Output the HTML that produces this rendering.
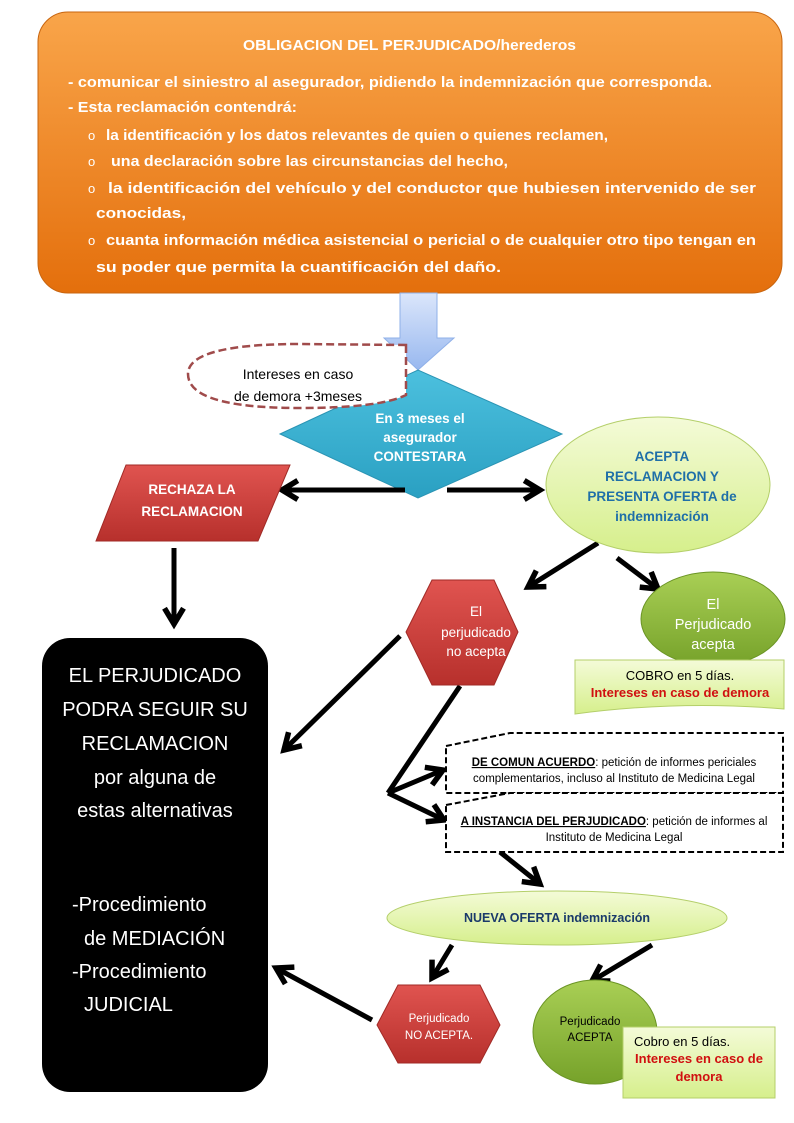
<!DOCTYPE html>
<html><head><meta charset="utf-8"><style>
html,body{margin:0;padding:0;background:#fff}
svg{display:block}
text{font-family:"Liberation Sans",sans-serif}
</style></head><body>
<svg width="794" height="1123" viewBox="0 0 794 1123" xmlns="http://www.w3.org/2000/svg">
<defs>
<linearGradient id="og" x1="0" y1="0" x2="0" y2="1"><stop offset="0" stop-color="#f9a54a"/><stop offset="1" stop-color="#e46f0c"/></linearGradient>
<linearGradient id="bg" x1="0" y1="0" x2="0" y2="1"><stop offset="0" stop-color="#dbe6fb"/><stop offset="1" stop-color="#98b8ef"/></linearGradient>
<linearGradient id="rg" x1="0" y1="0" x2="0" y2="1"><stop offset="0" stop-color="#e05450"/><stop offset="1" stop-color="#b7302c"/></linearGradient>
<linearGradient id="lg" x1="0" y1="0" x2="0" y2="1"><stop offset="0" stop-color="#f4fbd8"/><stop offset="1" stop-color="#d6ef8c"/></linearGradient>
<linearGradient id="gg" x1="0" y1="0" x2="0" y2="1"><stop offset="0" stop-color="#a9cf55"/><stop offset="1" stop-color="#76a22a"/></linearGradient>
<linearGradient id="dg" x1="0" y1="0" x2="0" y2="1"><stop offset="0" stop-color="#4cc0de"/><stop offset="1" stop-color="#2aa0c2"/></linearGradient>
<marker id="ah" viewBox="0 0 10 10" refX="7.5" refY="5" markerWidth="5" markerHeight="5" orient="auto" markerUnits="strokeWidth">
<polyline points="1.2,1.2 7.5,5 1.2,8.8" fill="none" stroke="#000" stroke-width="2.2"/></marker>
</defs>

<rect x="38" y="12" width="744" height="281" rx="30" fill="url(#og)" stroke="#c8650f"/>
<g fill="#fff" font-weight="bold" font-size="14.5">
<text x="243" y="50" textLength="333" lengthAdjust="spacingAndGlyphs">OBLIGACION DEL PERJUDICADO/herederos</text>
<text x="68" y="87" textLength="644" lengthAdjust="spacingAndGlyphs">- comunicar el siniestro al asegurador, pidiendo la indemnización que corresponda.</text>
<text x="68" y="112" textLength="229" lengthAdjust="spacingAndGlyphs">- Esta reclamación contendrá:</text>
<g font-weight="normal" font-size="13"><text x="88" y="140">o</text><text x="88" y="166">o</text><text x="88" y="193">o</text><text x="88" y="245">o</text></g>
<text x="106" y="140" textLength="502" lengthAdjust="spacingAndGlyphs">la identificación y los datos relevantes de quien o quienes reclamen,</text>
<text x="111" y="166" textLength="397" lengthAdjust="spacingAndGlyphs">una declaración sobre las circunstancias del hecho,</text>
<text x="108" y="193" textLength="648" lengthAdjust="spacingAndGlyphs">la identificación del vehículo y del conductor que hubiesen intervenido de ser</text>
<text x="96" y="218" textLength="90" lengthAdjust="spacingAndGlyphs">conocidas,</text>
<text x="106" y="245" textLength="650" lengthAdjust="spacingAndGlyphs">cuanta información médica asistencial o pericial o de cualquier otro tipo tengan en</text>
<text x="96" y="272" textLength="405" lengthAdjust="spacingAndGlyphs">su poder que permita la cuantificación del daño.</text>
</g>

<polygon points="400,293 437,293 437,338 454,338 418,370 384,338 400,338" fill="url(#bg)" stroke="#8fb0e8"/>

<polygon points="280,434 418,370 562,434 418,498" fill="url(#dg)" stroke="#2a94b4"/>
<g fill="#fff" font-weight="bold" font-size="13.5" text-anchor="middle">
<text x="420" y="423">En 3 meses el</text><text x="420" y="442">asegurador</text><text x="420" y="461">CONTESTARA</text></g>

<path d="M406,345 L406,395 Q380,408 300,408 Q188,408 188,374 Q188,344 300,344 Z" fill="#fff" stroke="#a04b4b" stroke-width="2.5" stroke-dasharray="8,4"/>
<g font-size="14" text-anchor="middle"><text x="298" y="379">Intereses en caso</text><text x="298" y="401">de demora +3meses</text></g>

<g stroke="#000" stroke-width="5" fill="none" marker-end="url(#ah)">
<line x1="405" y1="490" x2="282" y2="490"/>
<line x1="447" y1="490" x2="540" y2="490"/>
<line x1="174" y1="548" x2="174" y2="624"/>
<line x1="598" y1="543" x2="528" y2="587"/>
<line x1="617" y1="558" x2="658" y2="589"/>
<line x1="400" y1="636" x2="284" y2="750"/>
<line x1="388" y1="793" x2="443" y2="770"/>
<line x1="388" y1="793" x2="444" y2="820"/>
<line x1="500" y1="852" x2="540" y2="884"/>
<line x1="452" y1="945" x2="432" y2="978"/>
<line x1="652" y1="945" x2="592" y2="981"/>
<line x1="372" y1="1020" x2="276" y2="968"/>
</g>
<line x1="460" y1="686" x2="388" y2="793" stroke="#000" stroke-width="5"/>

<polygon points="126,465 290,465 258,541 96,541" fill="url(#rg)" stroke="#a02a26"/>
<g fill="#fff" font-weight="bold" font-size="13.5" text-anchor="middle"><text x="192" y="494">RECHAZA LA</text><text x="192" y="516">RECLAMACION</text></g>

<ellipse cx="658" cy="485" rx="112" ry="68" fill="url(#lg)" stroke="#b4cf6a"/>
<g fill="#1f6fa8" font-weight="bold" font-size="13.5" text-anchor="middle">
<text x="662" y="461">ACEPTA</text><text x="662" y="481">RECLAMACION Y</text><text x="662" y="501">PRESENTA OFERTA de</text><text x="662" y="521">indemnización</text></g>

<rect x="42" y="638" width="226" height="454" rx="28" fill="#000"/>
<g fill="#fff" font-size="20" text-anchor="middle">
<text x="155" y="682">EL PERJUDICADO</text><text x="155" y="716">PODRA SEGUIR SU</text><text x="155" y="750">RECLAMACION</text><text x="155" y="784">por alguna de</text><text x="155" y="817">estas alternativas</text></g>
<g fill="#fff" font-size="20">
<text x="72" y="911">-Procedimiento</text><text x="84" y="945">de MEDIACIÓN</text><text x="72" y="978">-Procedimiento</text><text x="84" y="1011">JUDICIAL</text></g>

<polygon points="406,632 432,580 494,580 518,632 494,685 432,685" fill="url(#rg)" stroke="#a02a26"/>
<g fill="#fff" font-size="13.5" text-anchor="middle"><text x="476" y="616">El</text><text x="476" y="637">perjudicado</text><text x="476" y="656">no acepta</text></g>

<ellipse cx="713" cy="619" rx="72" ry="47" fill="url(#gg)" stroke="#6a9424"/>
<g fill="#fff" font-size="14.5" text-anchor="middle"><text x="713" y="609">El</text><text x="713" y="629">Perjudicado</text><text x="713" y="649">acepta</text></g>

<path d="M575,660 L784,660 L784,709 Q680,700 575,714 Z" fill="url(#lg)" stroke="#b4cf6a"/>
<text x="680" y="680" font-size="13" text-anchor="middle">COBRO en 5 días.</text>
<text x="680" y="697" font-size="13" font-weight="bold" fill="#d01010" text-anchor="middle">Intereses en caso de demora</text>

<g fill="#fff" stroke="#000" stroke-width="2" stroke-dasharray="6,3">
<path d="M446,746 L510,733 L783,733 L783,793 L446,793 Z"/>
<path d="M446,805 L510,793 L783,793 L783,852 L446,852 Z"/>
</g>
<g font-size="11.5" text-anchor="middle">
<text x="614" y="766"><tspan font-weight="bold" text-decoration="underline">DE COMUN ACUERDO</tspan>: petición de informes periciales</text>
<text x="614" y="782">complementarios, incluso al Instituto de Medicina Legal</text>
<text x="614" y="825"><tspan font-weight="bold" text-decoration="underline">A INSTANCIA DEL PERJUDICADO</tspan>: petición de informes al</text>
<text x="614" y="841">Instituto de Medicina Legal</text></g>

<ellipse cx="557" cy="918" rx="170" ry="27" fill="url(#lg)" stroke="#b4cf6a"/>
<text x="557" y="922" font-size="12.5" font-weight="bold" fill="#1a3a6a" text-anchor="middle">NUEVA OFERTA indemnización</text>

<polygon points="377,1025 398,985 480,985 500,1025 480,1063 398,1063" fill="url(#rg)" stroke="#a02a26"/>
<g fill="#fff" font-size="11.5" text-anchor="middle"><text x="439" y="1022">Perjudicado</text><text x="439" y="1039">NO ACEPTA.</text></g>

<ellipse cx="595" cy="1032" rx="62" ry="52" fill="url(#gg)" stroke="#6a9424"/>
<g font-size="11.5" text-anchor="middle"><text x="590" y="1025">Perjudicado</text><text x="590" y="1041">ACEPTA</text></g>

<path d="M623,1027 L775,1027 L775,1098 L623,1098 Z" fill="url(#lg)" stroke="#b4cf6a"/>
<text x="634" y="1046" font-size="13">Cobro en 5 días.</text>
<g font-size="13" font-weight="bold" fill="#d01010" text-anchor="middle"><text x="699" y="1063">Intereses en caso de</text><text x="699" y="1081">demora</text></g>
</svg>
</body></html>
